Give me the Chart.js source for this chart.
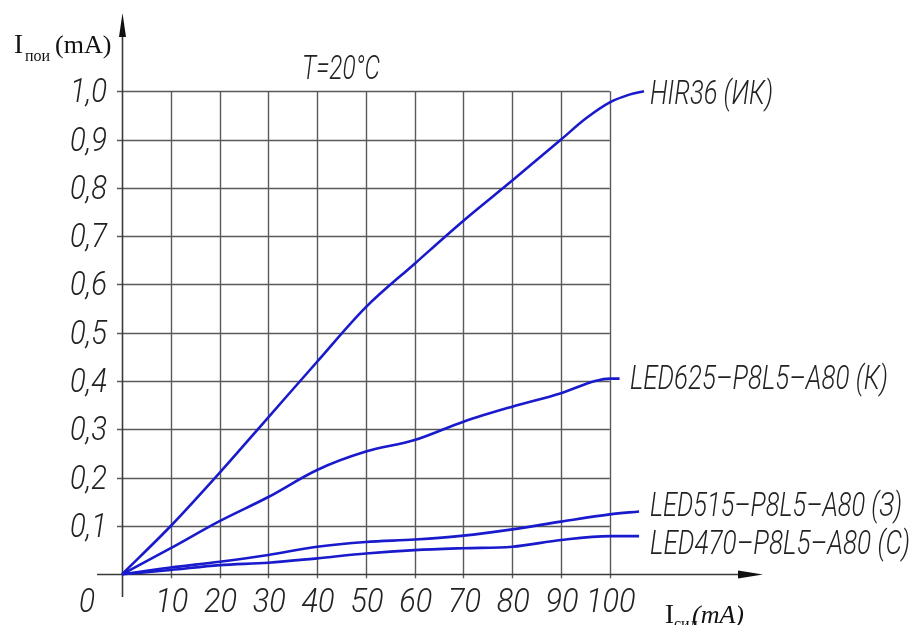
<!DOCTYPE html>
<html><head><meta charset="utf-8">
<script src="https://cdn.jsdelivr.net/npm/chart.js@4/dist/chart.umd.min.js"></script>
<style>html,body{margin:0;padding:0;background:#fff;overflow:hidden}#wrap{width:914px;height:625px;position:relative}</style>
</head><body><div id="wrap"><canvas id="c" width="914" height="625"></canvas></div>
<script>
// ---- data ----
const xTicks = [10, 20, 30, 40, 50, 60, 70, 80, 90, 100];
const xTickLabels = ['10', '20', '30', '40', '50', '60', '70', '80', '90', '100'];
const yTicks = [0.1, 0.2, 0.3, 0.4, 0.5, 0.6, 0.7, 0.8, 0.9, 1.0];
const yTickLabels = ['0,1', '0,2', '0,3', '0,4', '0,5', '0,6', '0,7', '0,8', '0,9', '1,0'];
const seriesNames = ['HIR36 (ИК)', 'LED625–P8L5–A80 (К)', 'LED515–P8L5–A80 (З)', 'LED470–P8L5–A80 (С)'];
const xHIR36 = [0, 10, 20, 30, 40, 50, 60, 70, 80, 90, 95, 100, 104, 107];
const yHIR36 = [0, 0.10, 0.21, 0.325, 0.44, 0.553, 0.643, 0.732, 0.815, 0.90, 0.943, 0.977, 0.993, 1.0];
const xLED625 = [0, 10, 20, 30, 40, 50, 60, 70, 80, 90, 97, 100, 102];
const yLED625 = [0, 0.054, 0.11, 0.16, 0.216, 0.254, 0.278, 0.316, 0.347, 0.375, 0.40, 0.405, 0.405];
const xLED515 = [0, 10, 20, 30, 40, 50, 60, 70, 80, 90, 100, 106];
const yLED515 = [0, 0.014, 0.026, 0.04, 0.057, 0.067, 0.072, 0.08, 0.093, 0.109, 0.124, 0.13];
const xLED470 = [0, 10, 20, 30, 40, 50, 60, 70, 80, 90, 100, 106];
const yLED470 = [0, 0.009, 0.019, 0.024, 0.033, 0.043, 0.05, 0.054, 0.057, 0.071, 0.079, 0.079];
const titleText = 'T=20°C';

const pts = (xs, ys) => xs.map((x, i) => ({x: x, y: ys[i]}));
const BLUE = '#1a1acd';
const GOST = 'italic 300 33px Roboto, "Liberation Sans", sans-serif';

function txt(ctx, s, x, y, font, targetW, align, color) {
  ctx.save();
  ctx.font = font;
  const m = ctx.measureText(s).width;
  const sx = targetW ? targetW / m : 1;
  ctx.translate(x, y);
  ctx.scale(sx, 1);
  ctx.textAlign = align || 'left';
  ctx.textBaseline = 'alphabetic';
  ctx.fillStyle = color || '#222';
  ctx.fillText(s, 0, 0);
  ctx.restore();
}

const decor = {
  id: 'decor',
  beforeDatasetsDraw(chart) {
    const ctx = chart.ctx, xs = chart.scales.x, ys = chart.scales.y;
    const x0 = xs.getPixelForValue(0), y0 = ys.getPixelForValue(0);
    const xR = xs.getPixelForValue(100), yT = ys.getPixelForValue(1.0);
    ctx.save();
    ctx.strokeStyle = '#5a5a5a';
    ctx.lineWidth = 1.4;
    xTicks.forEach(v => {
      const p = Math.round(xs.getPixelForValue(v)) + 0.5;
      ctx.beginPath(); ctx.moveTo(p, yT); ctx.lineTo(p, y0 + 4); ctx.stroke();
    });
    yTicks.forEach(v => {
      const p = Math.round(ys.getPixelForValue(v)) + 0.5;
      ctx.beginPath(); ctx.moveTo(x0 - 5, p); ctx.lineTo(xR, p); ctx.stroke();
    });
    // axes
    const ca = chart.chartArea;
    ctx.strokeStyle = '#3a3a3a';
    ctx.lineWidth = 1.6;
    const ax = Math.round(x0) + 0.5, ay = Math.round(y0) + 0.5;
    ctx.beginPath(); ctx.moveTo(ax, ca.bottom); ctx.lineTo(ax, ca.top + 10); ctx.stroke();
    ctx.beginPath(); ctx.moveTo(ca.left, ay); ctx.lineTo(ca.right - 10, ay); ctx.stroke();
    ctx.fillStyle = '#111';
    ctx.beginPath(); ctx.moveTo(ax, ca.top); ctx.lineTo(ax - 3.5, ca.top + 24); ctx.lineTo(ax + 3.5, ca.top + 24); ctx.closePath(); ctx.fill();
    ctx.beginPath(); ctx.moveTo(ca.right, ay); ctx.lineTo(ca.right - 25, ay - 4); ctx.lineTo(ca.right - 25, ay + 4); ctx.closePath(); ctx.fill();
    ctx.restore();
  },
  afterDatasetsDraw(chart) {
    const ctx = chart.ctx, xs = chart.scales.x, ys = chart.scales.y;
    ctx.save(); ctx.font = GOST;
    const sY = 37 / ctx.measureText('0,9').width;
    const sX = 33 / ctx.measureText('20').width;
    ctx.restore();
    yTicks.forEach((v, i) => {
      const p = ys.getPixelForValue(v);
      ctx.save(); ctx.font = GOST;
      const w = ctx.measureText(yTickLabels[i]).width * sY;
      ctx.restore();
      txt(ctx, yTickLabels[i], 70, p + 11, GOST, w, 'left');
    });
    xTicks.forEach((v, i) => {
      const p = xs.getPixelForValue(v);
      ctx.save(); ctx.font = GOST;
      const w = ctx.measureText(xTickLabels[i]).width * sX;
      ctx.restore();
      txt(ctx, xTickLabels[i], p + 1, 612, GOST, w, 'center');
    });
    txt(ctx, '0', 87, 612, GOST, 16, 'center');
    txt(ctx, titleText, 302, 79, GOST, 78, 'left');
    txt(ctx, seriesNames[0], 650, 104, GOST, 123, 'left');
    txt(ctx, seriesNames[1], 630, 389, GOST, 258, 'left');
    txt(ctx, seriesNames[2], 650, 516, GOST, 252, 'left');
    txt(ctx, seriesNames[3], 650, 554, GOST, 260, 'left');
    ctx.save();
    ctx.fillStyle = '#111';
    ctx.textBaseline = 'alphabetic';
    ctx.font = '27px "Liberation Serif", serif';
    ctx.fillText('I', 14, 53);
    ctx.font = '16px "Liberation Serif", serif';
    ctx.fillText('пои', 25, 61);
    ctx.font = '26px "Liberation Serif", serif';
    ctx.fillText('(mA)', 55, 53);
    ctx.font = '27px "Liberation Serif", serif';
    ctx.fillText('I', 665, 623);
    ctx.font = '16px "Liberation Serif", serif';
    ctx.fillText('сид', 674, 629);
    ctx.font = 'italic 26px "Liberation Serif", serif';
    ctx.fillText('(mA)', 692, 623);
    ctx.restore();
  }
};

const mk = (name, data) => ({
  label: name, data: data, showLine: true, borderColor: BLUE, borderWidth: 2.6,
  pointRadius: 0, fill: false, cubicInterpolationMode: 'monotone'
});

new Chart(document.getElementById('c'), {
  type: 'scatter',
  data: {
    datasets: [
      mk(seriesNames[0], pts(xHIR36, yHIR36)),
      mk(seriesNames[1], pts(xLED625, yLED625)),
      mk(seriesNames[2], pts(xLED515, yLED515)),
      mk(seriesNames[3], pts(xLED470, yLED470))
    ]
  },
  options: {
    responsive: false, animation: false, devicePixelRatio: 1,
    layout: {padding: {left: 97, right: 151, top: 13, bottom: 28}},
    plugins: {legend: {display: false}, tooltip: {enabled: false}},
    scales: {
      x: {type: 'linear', min: -5.12, max: 131.4, display: false},
      y: {type: 'linear', min: -0.047, max: 1.162, display: false}
    }
  },
  plugins: [decor]
});
</script>
</body></html>
